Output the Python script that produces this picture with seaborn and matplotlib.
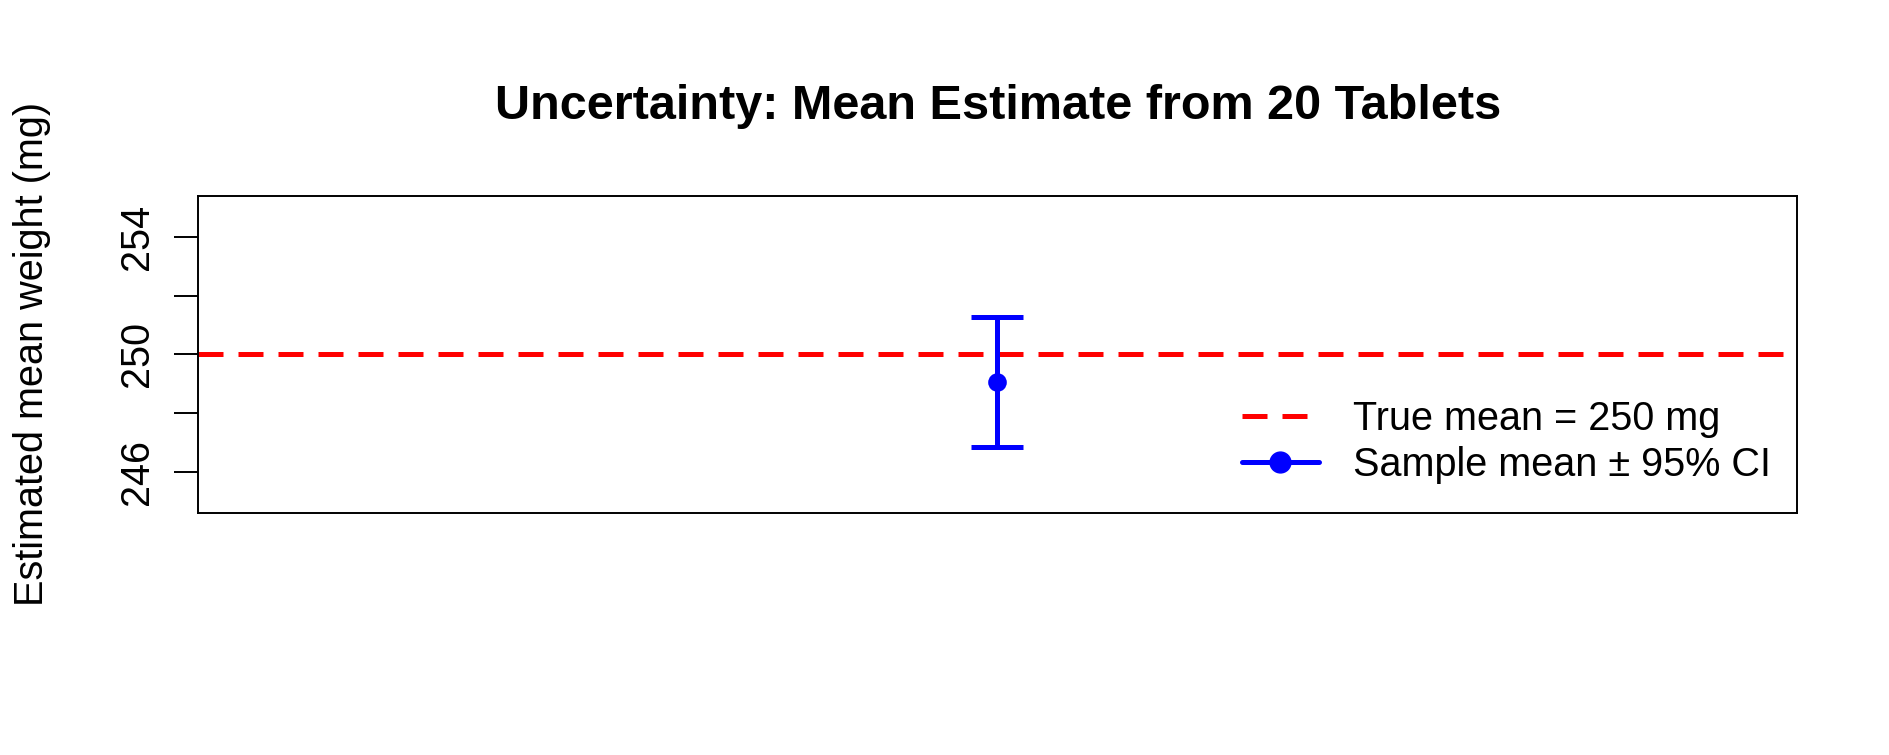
import matplotlib
matplotlib.use("Agg")
import matplotlib.pyplot as plt
import seaborn as sns
import pandas as pd
from matplotlib.lines import Line2D

# values
true_mean = 250
sample_mean = [249.07]
ci_low = [246.85]
ci_high = [251.29]
positions = [1]
y_ticks = [246, 248, 250, 252, 254]
y_tick_labels = ["246", "", "250", "", "254"]
legend_labels = ['True mean = 250 mg', 'Sample mean \u00b1 95% CI']

sns.set_theme(style="white")
plt.rcParams['font.family'] = ['Liberation Sans', 'DejaVu Sans']
plt.rcParams['text.color'] = 'black'

fig = plt.figure(figsize=(18.9, 7.55), dpi=100)
ax = fig.add_axes([0.1045, 0.321, 0.8465, 0.419])

# true mean reference line
ax.axhline(true_mean, color='red', lw=3.6, dashes=(5, 3), zorder=1)

# 95% confidence interval
ax.errorbar(positions, sample_mean,
            yerr=[[m - lo for m, lo in zip(sample_mean, ci_low)],
                  [hi - m for m, hi in zip(sample_mean, ci_high)]],
            fmt='none', ecolor='blue', elinewidth=3.6, capsize=19, capthick=3.6, zorder=2)

# sample mean point
df = pd.DataFrame({'x': positions, 'mean': sample_mean})
sns.scatterplot(data=df, x='x', y='mean', color='blue', s=180, edgecolor='blue',
                linewidth=0, ax=ax, zorder=3)

ax.set_xlim(0.5, 1.5)
ax.set_ylim(244.6, 255.4)
ax.set_xticks([])
ax.set_xlabel('')
ax.set_ylabel('')
ax.set_yticks(y_ticks)
ax.set_yticklabels(y_tick_labels, rotation=90, va='center')
ax.tick_params(axis='y', direction='out', length=17.3, width=1.4, pad=12.5,
               labelsize=28.5, colors='black', left=True)
for sp in ax.spines.values():
    sp.set_color('black')
    sp.set_linewidth(1.4)

fig.text(0.528, 0.843, 'Uncertainty: Mean Estimate from 20 Tablets',
         ha='center', va='baseline', fontsize=35, fontweight='bold')
fig.text(0.0229, 0.5307, 'Estimated mean weight (mg)', rotation=90,
         rotation_mode='anchor', ha='center', va='baseline', fontsize=28.5)

handles = [
    Line2D([], [], color='red', lw=3.6, dashes=(5, 3)),
    Line2D([], [], color='blue', lw=3.6, marker='o', markersize=15),
]
ax.legend(handles, legend_labels, loc='upper left',
          bbox_to_anchor=(0.6571, 0.4702), bbox_transform=fig.transFigure,
          frameon=False, fontsize=28.5, handlelength=1.94, handletextpad=0.86,
          labelspacing=0.19, borderpad=0, borderaxespad=0)

fig.savefig('out.png', dpi=100)
